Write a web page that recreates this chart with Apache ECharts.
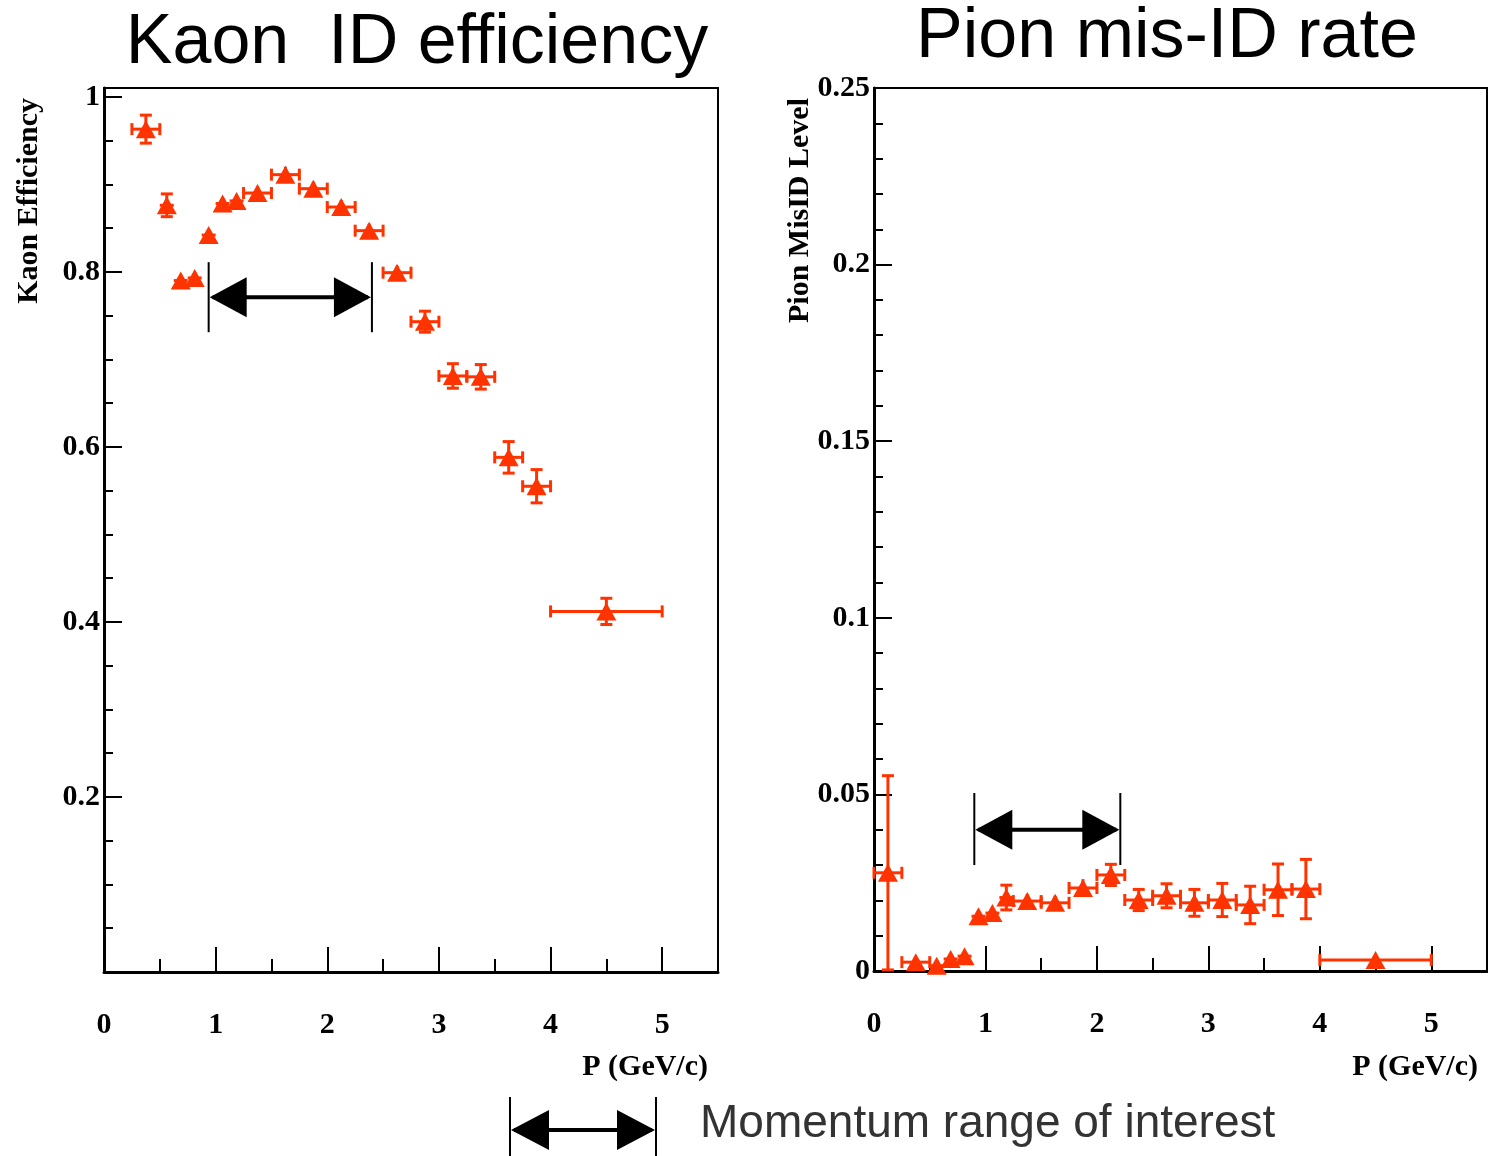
<!DOCTYPE html>
<html>
<head>
<meta charset="utf-8">
<script src="https://cdn.jsdelivr.net/npm/echarts@6/dist/echarts.min.js"></script>
<style>
  html, body { margin: 0; padding: 0; background: #fff; }
  #chart { width: 1488px; height: 1156px; }
</style>
</head>
<body>
<div id="chart"></div>
<script>
// ---- Kaon identification efficiency vs momentum ----
const kaonP      = [0.375, 0.5625, 0.6875, 0.8125, 0.9375, 1.0625, 1.1875, 1.375, 1.625, 1.875, 2.125, 2.375, 2.625, 2.875, 3.125, 3.375, 3.625, 3.875, 4.5];
const kaonPErr   = [0.125, 0.0625, 0.0625, 0.0625, 0.0625, 0.0625, 0.0625, 0.125, 0.125, 0.125, 0.125, 0.125, 0.125, 0.125, 0.125, 0.125, 0.125, 0.125, 0.5];
const kaonEff    = [0.963, 0.876, 0.790, 0.793, 0.842, 0.878, 0.881, 0.890, 0.911, 0.895, 0.874, 0.847, 0.799, 0.743, 0.681, 0.680, 0.588, 0.555, 0.412];
const kaonEffErr = [0.016, 0.013, 0.007, 0.007, 0.007, 0.007, 0.007, 0.007, 0.009, 0.008, 0.008, 0.008, 0.008, 0.012, 0.014, 0.014, 0.018, 0.019, 0.015];

// ---- Pion mis-identification rate vs momentum ----
const pionP       = [0.125, 0.375, 0.5625, 0.6875, 0.8125, 0.9375, 1.0625, 1.1875, 1.375, 1.625, 1.875, 2.125, 2.375, 2.625, 2.875, 3.125, 3.375, 3.625, 3.875, 4.5];
const pionPErr    = [0.125, 0.125, 0.0625, 0.0625, 0.0625, 0.0625, 0.0625, 0.0625, 0.125, 0.125, 0.125, 0.125, 0.125, 0.125, 0.125, 0.125, 0.125, 0.125, 0.125, 0.5];
const pionMisId   = [0.0278, 0.0025, 0.0015, 0.0034, 0.0042, 0.0155, 0.0164, 0.0208, 0.0198, 0.0193, 0.0235, 0.0272, 0.0201, 0.0213, 0.0193, 0.0201, 0.0187, 0.0230, 0.0232, 0.0031];
const pionMisIdErr= [0.0275, 0.0012, 0.0010, 0.0012, 0.0012, 0.0015, 0.0015, 0.0035, 0.0020, 0.0020, 0.0025, 0.0030, 0.0030, 0.0034, 0.0038, 0.0047, 0.0053, 0.0073, 0.0084, 0.0010];

// Momentum range of interest: [pLow, pHigh, yLow, yHigh, yArrow]
const kaonRange = [0.9375, 2.4, 0.731, 0.811, 0.771];
const pionRange = [0.9, 2.21, 0.030, 0.0504, 0.040];

// Axis extents and tick steps
const pMax = 5.5, pMajor = 1, pMinor = 0.5;
const effMax = 1.01, effMajor = 0.2, effMinor = 0.05;
const misMax = 0.25, misMajor = 0.05, misMinor = 0.01;

const RED = '#ff3300';
const SERIF = '"Liberation Serif", "Times New Roman", serif';
const SANS = '"Liberation Sans", Arial, Helvetica, sans-serif';
const MARK_W = 20, MARK_H = 18;

const chart = echarts.init(document.getElementById('chart'), null, { renderer: 'canvas' });

function seg(x1, y1, x2, y2, color, w) {
  return { type: 'line', shape: { x1, y1, x2, y2 }, style: { stroke: color, lineWidth: w } };
}

// Error bars with end caps; caps that would sit under the marker are skipped.
function errorBars(xi, yi, px, pxErr, val, valErr) {
  return {
    type: 'custom', xAxisIndex: xi, yAxisIndex: yi, z: 3, silent: true, animation: false,
    data: px.map((p, i) => [p, val[i], pxErr[i], valErr[i]]),
    encode: { x: 0, y: 1 },
    renderItem(params, api) {
      const x = api.value(0), y = api.value(1), ex = api.value(2), ey = api.value(3);
      const c = api.coord([x, y]);
      const l = api.coord([x - ex, y]), r = api.coord([x + ex, y]);
      const t = api.coord([x, y + ey]), b = api.coord([x, y - ey]);
      const cap = 6, hw = MARK_W / 2, hh = MARK_H / 2;
      const kids = [
        seg(l[0], c[1], r[0], c[1], RED, 3),
        seg(c[0], t[1], c[0], b[1], RED, 3)
      ];
      if (c[0] - l[0] > hw) kids.push(seg(l[0], c[1] - cap, l[0], c[1] + cap, RED, 3));
      if (r[0] - c[0] > hw) kids.push(seg(r[0], c[1] - cap, r[0], c[1] + cap, RED, 3));
      if (c[1] - t[1] > hh) kids.push(seg(c[0] - cap, t[1], c[0] + cap, t[1], RED, 3));
      if (b[1] - c[1] > hh) kids.push(seg(c[0] - cap, b[1], c[0] + cap, b[1], RED, 3));
      return { type: 'group', children: kids };
    }
  };
}

function markers(xi, yi, px, val) {
  return {
    type: 'scatter', xAxisIndex: xi, yAxisIndex: yi, z: 5, silent: true, animation: false,
    symbol: 'triangle', symbolSize: [MARK_W, MARK_H],
    itemStyle: { color: RED, opacity: 1 },
    data: px.map((p, i) => [p, val[i]])
  };
}

function rangeArrow(xi, yi, range) {
  return {
    type: 'custom', xAxisIndex: xi, yAxisIndex: yi, z: 6, silent: true, animation: false,
    data: [range],
    renderItem(params, api) {
      const x1 = api.value(0), x2 = api.value(1), lo = api.value(2), hi = api.value(3), mid = api.value(4);
      const a = api.coord([x1, mid]), b = api.coord([x2, mid]);
      const aLo = api.coord([x1, lo]), aHi = api.coord([x1, hi]);
      const bLo = api.coord([x2, lo]), bHi = api.coord([x2, hi]);
      const hl = 38, hh = 20;
      return { type: 'group', children: [
        seg(aLo[0], aLo[1], aHi[0], aHi[1], '#000', 2),
        seg(bLo[0], bLo[1], bHi[0], bHi[1], '#000', 2),
        seg(a[0] + 4, a[1], b[0] - 4, b[1], '#000', 4),
        { type: 'polygon', shape: { points: [[a[0] + 1, a[1]], [a[0] + hl, a[1] - hh], [a[0] + hl, a[1] + hh]] }, style: { fill: '#000' } },
        { type: 'polygon', shape: { points: [[b[0] - 1, b[1]], [b[0] - hl, b[1] - hh], [b[0] - hl, b[1] + hh]] }, style: { fill: '#000' } }
      ]};
    }
  };
}

const tickLabel = { color: '#000', fontFamily: SERIF, fontWeight: 'bold', fontSize: 30 };

function xAxisPair(grid) {
  return [
    { gridIndex: grid, type: 'value', min: 0, max: pMax, interval: pMinor, position: 'bottom',
      axisLine: { show: true, onZero: false, lineStyle: { color: '#000', width: 3 } },
      axisTick: { show: true, inside: true, length: 13, lineStyle: { color: '#000', width: 2 } },
      axisLabel: { show: false }, splitLine: { show: false } },
    { gridIndex: grid, type: 'value', min: 0, max: pMax, interval: pMajor, position: 'bottom',
      axisLine: { show: false, onZero: false },
      axisTick: { show: true, inside: true, length: 25, lineStyle: { color: '#000', width: 2 } },
      axisLabel: Object.assign({ show: true, margin: 38, showMinLabel: true, showMaxLabel: false }, tickLabel),
      splitLine: { show: false } }
  ];
}

function yAxisPair(grid, max, major, minor, showZero) {
  return [
    { gridIndex: grid, type: 'value', min: 0, max: max, interval: minor, position: 'left',
      axisLine: { show: true, onZero: false, lineStyle: { color: '#000', width: 3 } },
      axisTick: { show: true, inside: true, length: 9, lineStyle: { color: '#000', width: 2 } },
      axisLabel: { show: false }, splitLine: { show: false } },
    { gridIndex: grid, type: 'value', min: 0, max: max, interval: major, position: 'left',
      axisLine: { show: false, onZero: false },
      axisTick: { show: true, inside: true, length: 18, lineStyle: { color: '#000', width: 2 } },
      axisLabel: Object.assign({ show: true, margin: 4, showMinLabel: showZero, showMaxLabel: true,
        formatter: v => (Math.abs(v / major - Math.round(v / major)) < 1e-6 ? String(+v.toFixed(4)) : '') }, tickLabel),
      splitLine: { show: false } }
  ];
}

const option = {
  backgroundColor: '#fff',
  animation: false,
  grid: [
    { left: 104, top: 88, width: 614, height: 884, show: true, borderColor: '#000', borderWidth: 2, backgroundColor: 'transparent' },
    { left: 874, top: 88, width: 613, height: 883, show: true, borderColor: '#000', borderWidth: 2, backgroundColor: 'transparent' }
  ],
  xAxis: [...xAxisPair(0), ...xAxisPair(1)],
  yAxis: [...yAxisPair(0, effMax, effMajor, effMinor, false), ...yAxisPair(1, misMax, misMajor, misMinor, true)],
  series: [
    errorBars(1, 1, kaonP, kaonPErr, kaonEff, kaonEffErr),
    markers(1, 1, kaonP, kaonEff),
    rangeArrow(1, 1, kaonRange),
    errorBars(3, 3, pionP, pionPErr, pionMisId, pionMisIdErr),
    markers(3, 3, pionP, pionMisId),
    rangeArrow(3, 3, pionRange)
  ],
  graphic: [
    { type: 'text', x: 417, y: 44, style: { text: 'Kaon  ID efficiency', font: '70px ' + SANS, fill: '#000', align: 'center', verticalAlign: 'middle' } },
    { type: 'text', x: 1167, y: 38, style: { text: 'Pion mis-ID rate', font: '70px ' + SANS, fill: '#000', align: 'center', verticalAlign: 'middle' } },
    { type: 'text', x: 29, y: 98, rotation: Math.PI / 2, style: { text: 'Kaon Efficiency', font: 'bold 30px ' + SERIF, fill: '#000', align: 'right', verticalAlign: 'middle' } },
    { type: 'text', x: 800, y: 98, rotation: Math.PI / 2, style: { text: 'Pion MisID Level', font: 'bold 30px ' + SERIF, fill: '#000', align: 'right', verticalAlign: 'middle' } },
    { type: 'text', x: 708, y: 1067, style: { text: 'P (GeV/c)', font: 'bold 30px ' + SERIF, fill: '#000', align: 'right', verticalAlign: 'middle' } },
    { type: 'text', x: 1478, y: 1067, style: { text: 'P (GeV/c)', font: 'bold 30px ' + SERIF, fill: '#000', align: 'right', verticalAlign: 'middle' } },
    // legend key: double arrow between two bars
    { type: 'group', children: [
      seg(510, 1097, 510, 1156, '#000', 2),
      seg(656, 1097, 656, 1156, '#000', 2),
      seg(514, 1130, 652, 1130, '#000', 4),
      { type: 'polygon', shape: { points: [[511, 1130], [549, 1110], [549, 1150]] }, style: { fill: '#000' } },
      { type: 'polygon', shape: { points: [[655, 1130], [617, 1110], [617, 1150]] }, style: { fill: '#000' } }
    ]},
    { type: 'text', x: 700, y: 1124, style: { text: 'Momentum range of interest', font: '46px ' + SANS, fill: '#333', align: 'left', verticalAlign: 'middle' } }
  ]
};

chart.setOption(option);
</script>
</body>
</html>
